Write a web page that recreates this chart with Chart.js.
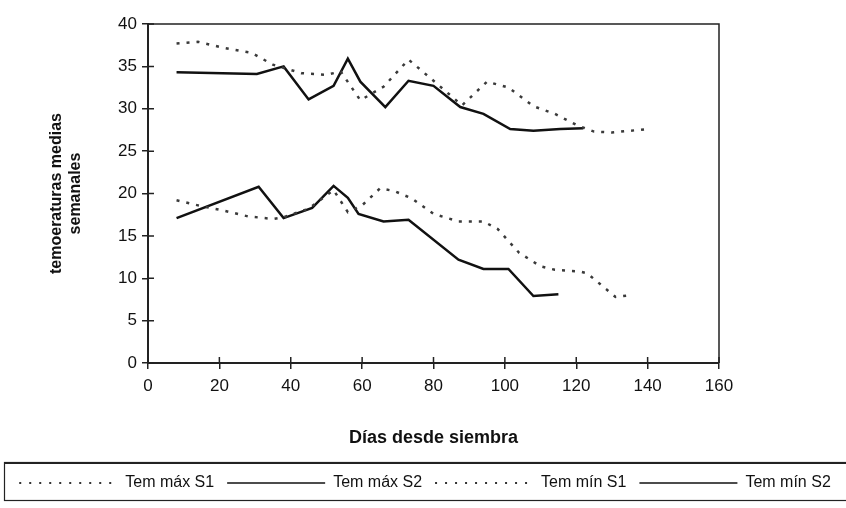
<!DOCTYPE html>
<html>
<head>
<meta charset="utf-8">
<script src="https://cdn.jsdelivr.net/npm/chart.js@4.4.1/dist/chart.umd.min.js"></script>
<style>
  body { margin: 0; background: #fff; }
  #wrap { width: 846px; height: 508px; }
</style>
</head>
<body>
<div id="wrap"><canvas id="myChart" width="846" height="508"></canvas></div>
<script>
// dias desde siembra / temperaturas
var maxS1_x = [8, 14, 21, 29, 35, 43, 50, 54, 59.5, 66, 73, 80, 88, 95, 101, 108, 114, 120, 125, 130, 140];
var maxS1_y = [37.7, 37.9, 37.2, 36.6, 35.2, 34.2, 34.0, 34.4, 31.0, 32.6, 35.8, 33.3, 30.4, 33.2, 32.5, 30.3, 29.4, 28.1, 27.3, 27.2, 27.6];

var maxS2_x = [8, 30.5, 38, 45, 52, 56, 59.5, 66.5, 73, 80, 87.5, 94, 101.5, 108, 115.5, 122];
var maxS2_y = [34.3, 34.1, 35.0, 31.1, 32.7, 35.9, 33.2, 30.2, 33.3, 32.7, 30.2, 29.4, 27.6, 27.4, 27.6, 27.7];

var minS1_x = [8, 14, 21, 28, 35, 38, 45, 52, 56, 60, 65, 69, 74, 80, 87, 94, 98, 104, 110, 114, 121, 123, 131, 135];
var minS1_y = [19.2, 18.6, 18.0, 17.3, 17.0, 17.2, 18.2, 20.4, 17.8, 18.6, 20.6, 20.3, 19.4, 17.6, 16.7, 16.7, 15.8, 13.0, 11.4, 11.0, 10.8, 10.6, 7.8, 8.0];

var minS2_x = [8, 31, 38, 46, 52, 56, 59, 66, 73, 87, 94, 101, 108, 115];
var minS2_y = [17.1, 20.8, 17.1, 18.3, 20.9, 19.5, 17.6, 16.7, 16.9, 12.2, 11.1, 11.1, 7.9, 8.1];

var seriesNames = ["Tem máx S1", "Tem máx S2", "Tem mín S1", "Tem mín S2"];
var xTicks = [0, 20, 40, 60, 80, 100, 120, 140, 160];
var yTicks = [0, 5, 10, 15, 20, 25, 30, 35, 40];

function pts(xs, ys) {
	var out = [];
	for (var i = 0; i < xs.length; i++) {
		out.push({x: xs[i], y: ys[i]});
	}
	return out;
}

var dotted = {borderColor: '#3a3a3a', borderWidth: 2.5, borderDash: [3, 7], pointRadius: 0, tension: 0, fill: false};
var solid = {borderColor: '#111', borderWidth: 2.5, borderDash: [], pointRadius: 0, tension: 0, fill: false};

// ticks que cruzan el eje + marco del area
var frame = {
	id: 'frame',
	afterDraw: function(chart) {
		var ctx = chart.ctx, a = chart.chartArea;
		var xs = chart.scales.x, ys = chart.scales.y;
		ctx.save();
		ctx.strokeStyle = '#222';
		ctx.lineWidth = 1.5;
		ctx.beginPath();
		ctx.moveTo(a.left, a.top);
		ctx.lineTo(a.right, a.top);
		ctx.lineTo(a.right, a.bottom);
		ctx.stroke();
		ctx.beginPath();
		xTicks.forEach(function(v) {
			var px = xs.getPixelForValue(v);
			ctx.moveTo(px, a.bottom - 6);
			ctx.lineTo(px, a.bottom);
		});
		yTicks.forEach(function(v) {
			var py = ys.getPixelForValue(v);
			ctx.moveTo(a.left, py);
			ctx.lineTo(a.left + 6, py);
		});
		ctx.stroke();
		// caja de la leyenda
		var lg = chart.legend;
		ctx.lineWidth = 1.2;
		ctx.strokeRect(lg.left + 0.5, lg.top + 0.5, chart.width - lg.left + 2, lg.bottom - lg.top - 1);
		ctx.lineWidth = 2;
		ctx.beginPath();
		ctx.moveTo(lg.left, lg.top + 1);
		ctx.lineTo(chart.width, lg.top + 1);
		ctx.stroke();
		ctx.restore();
	}
};

window.onload = function() {
	var ctx = document.getElementById('myChart').getContext('2d');
	Chart.defaults.font.family = "'Liberation Sans', Arial, sans-serif";
	Chart.defaults.color = '#111';

	var chart = new Chart(ctx, {
		type: 'line',
		data: {
			datasets: [
				Object.assign({label: seriesNames[0], data: pts(maxS1_x, maxS1_y)}, dotted),
				Object.assign({label: seriesNames[1], data: pts(maxS2_x, maxS2_y)}, solid),
				Object.assign({label: seriesNames[2], data: pts(minS1_x, minS1_y)}, dotted),
				Object.assign({label: seriesNames[3], data: pts(minS2_x, minS2_y)}, solid)
			]
		},
		options: {
			responsive: false,
			animation: false,
			layout: {padding: {left: 4, right: 0, top: 24, bottom: 7}},
			plugins: {
				tooltip: {enabled: false},
				legend: {
					position: 'bottom',
					labels: {
						usePointStyle: true,
						pointStyle: 'line',
						pointStyleWidth: 98,
						boxHeight: 16,
						padding: 13,
						color: '#111',
						font: {size: 16},
						generateLabels: function(chart) {
							var items = Chart.defaults.plugins.legend.labels.generateLabels(chart);
							items.forEach(function(it) {
								var ds = chart.data.datasets[it.datasetIndex];
								if (ds.borderDash.length) {
									it.lineDash = [2, 8];
									it.lineWidth = 2;
									it.strokeStyle = '#333';
								} else {
									it.lineDash = [];
									it.lineWidth = 1.5;
									it.strokeStyle = '#111';
								}
							});
							return items;
						}
					}
				}
			},
			scales: {
				x: {
					type: 'linear',
					min: 0, max: 160,
					afterBuildTicks: function(s) { s.ticks = xTicks.map(function(v) { return {value: v}; }); },
					afterFit: function(s) { s.height = 99; },
					grid: {drawOnChartArea: false, drawTicks: true, tickLength: 6, color: '#222', lineWidth: 1.5},
					border: {display: true, color: '#222', width: 2},
					ticks: {padding: 7, color: '#111', font: {size: 17}, maxRotation: 0},
					title: {display: true, text: 'Días desde siembra', color: '#111', font: {size: 18, weight: 'bold'}, padding: {top: 0, bottom: 13}}
				},
				y: {
					min: 0, max: 40,
					afterBuildTicks: function(s) { s.ticks = yTicks.map(function(v) { return {value: v}; }); },
					afterFit: function(s) { s.width = 144; },
					grid: {drawOnChartArea: false, drawTicks: true, tickLength: 6, color: '#222', lineWidth: 1.5},
					border: {display: true, color: '#222', width: 2},
					ticks: {padding: 5, color: '#111', font: {size: 17}},
					title: {display: true, text: ['temoeraturas medias', 'semanales'], color: '#111', font: {size: 16, weight: 'bold'}, padding: {top: 43, bottom: 0}}
				},
				y2: {
					position: 'right',
					min: 0, max: 40,
					afterFit: function(s) { s.width = 127; },
					grid: {display: false, drawOnChartArea: false},
					border: {display: false},
					ticks: {display: false}
				}
			}
		},
		plugins: [frame]
	});
};
</script>
</body>
</html>
